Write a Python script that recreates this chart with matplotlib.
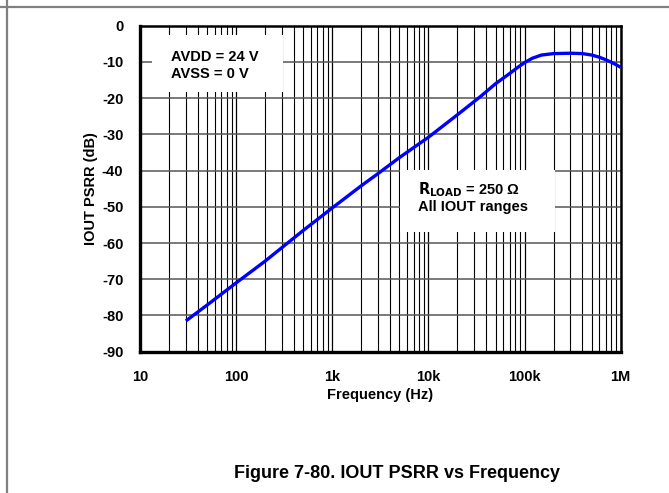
import matplotlib
matplotlib.use("Agg")
import matplotlib.pyplot as plt
from matplotlib.lines import Line2D
from matplotlib.patches import Rectangle
from matplotlib.ticker import FixedLocator, NullFormatter, LogLocator
import numpy as np

plt.rcParams['font.family'] = ['Liberation Sans', 'DejaVu Sans']
plt.rcParams['font.weight'] = 'bold'

freq_hz = [30, 50, 100, 200, 500, 1000, 2000, 3000, 5000, 10000, 20000, 35000,
           50000, 70000, 85000, 100000, 120000, 150000, 200000, 300000, 400000,
           500000, 600000, 700000, 800000, 900000, 1000000]
psrr_db = [-81.5, -77.1, -71.0, -65.0, -56.5, -50.3, -44.2, -40.8, -36.4, -30.8,
           -24.6, -19.5, -16.0, -13.2, -11.5, -10.2, -9.0, -8.1, -7.7, -7.6, -7.7,
           -8.1, -8.7, -9.4, -10.1, -10.8, -11.5]

x_ticks = [10, 100, 1000, 10000, 100000, 1000000]
x_tick_labels = ['10', '100', '1k', '10k', '100k', '1M']
y_ticks = [0, -10, -20, -30, -40, -50, -60, -70, -80, -90]

fig = plt.figure(figsize=(6.69, 4.93), dpi=100)
ax = fig.add_axes([140/669, 1-351.7/493, (620.7-140)/669, (351.7-25.7)/493])

ax.set_xscale('log')
ax.set_xlim(10, 1e6)
ax.set_ylim(-90, 0)

ax.xaxis.set_major_locator(FixedLocator(x_ticks))
ax.xaxis.set_minor_locator(LogLocator(base=10, subs=np.arange(2, 10)))
ax.xaxis.set_minor_formatter(NullFormatter())
ax.set_xticks(x_ticks)
ax.set_xticklabels(x_tick_labels)
ax.set_yticks(y_ticks)
ax.set_yticklabels([str(v) for v in y_ticks])
ax.grid(True, which='major', axis='x', color='black', linewidth=0.9, zorder=1)
ax.grid(True, which='minor', axis='x', color='black', linewidth=0.8, zorder=1)
ax.grid(True, which='major', axis='y', color='#555555', linewidth=1.1, zorder=1)
ax.tick_params(axis='both', which='both', length=0)
ax.tick_params(axis='y', pad=12, labelsize=10.5)
ax.tick_params(axis='x', pad=13, labelsize=10.5)
for lab in ax.get_xticklabels() + ax.get_yticklabels():
    lab.set_fontweight('bold')

for s in ax.spines.values():
    s.set_linewidth(1.8)
    s.set_color('black')
ax.spines['left'].set_linewidth(2.4)
ax.spines['bottom'].set_linewidth(2.4)

ax.plot(freq_hz, psrr_db, color='#0000ff', linewidth=2.4, zorder=3,
        solid_capstyle='butt')

ax.set_xlabel('Frequency (Hz)', fontsize=10.5, fontweight='bold', labelpad=3)
ax.set_ylabel('IOUT PSRR (dB)', fontsize=10.5, fontweight='bold', labelpad=3)

ax.add_patch(Rectangle((0.0243, 0.7975), 0.2737, 0.174, transform=ax.transAxes,
                       facecolor='white', edgecolor='none', zorder=2))
ax.add_patch(Rectangle((0.541, 0.367), 0.322, 0.190, transform=ax.transAxes,
                       facecolor='white', edgecolor='none', zorder=2))

ax.text(0.0639, 0.925, 'AVDD = 24 V\nAVSS = 0 V', transform=ax.transAxes,
        fontsize=10.5, fontweight='bold', va='top', ha='left', linespacing=1.3,
        zorder=4)
ax.text(0.578, 0.527, '$\\mathbf{R_{LOAD}}$ = 250 Ω\nAll IOUT ranges',
        transform=ax.transAxes, fontsize=10.5, fontweight='bold', va='top',
        ha='left', linespacing=1.1, zorder=4)

fig.text(0.5935, 1-473/493, 'Figure 7-80. IOUT PSRR vs Frequency', ha='center',
         va='center', fontsize=13, fontweight='bold')

fig.add_artist(Line2D([7/669, 7/669], [0, 1], color='#808080', linewidth=1.6,
                      transform=fig.transFigure))
fig.add_artist(Line2D([0, 1], [1-7/493, 1-7/493], color='#808080', linewidth=1.6,
                      transform=fig.transFigure))

fig.savefig('out.png', dpi=100, facecolor='white')
